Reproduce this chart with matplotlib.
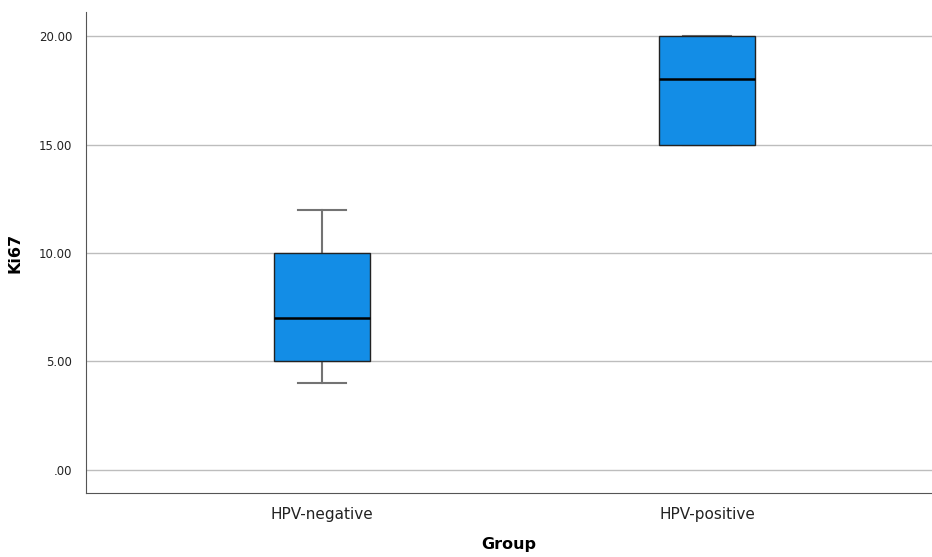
import matplotlib
matplotlib.use('Agg')
from matplotlib import pyplot as plt

groups = ['HPV-negative', 'HPV-positive']
whisker_low = [4, 15]
q1 = [5, 15]
median = [7, 18]
q3 = [10, 20]
whisker_high = [12, 20]
y_ticks = [0, 5, 10, 15, 20]
y_tick_labels = ['.00', '5.00', '10.00', '15.00', '20.00']

stats = []
for i in range(len(groups)):
    stats.append({'label': groups[i], 'whislo': whisker_low[i], 'q1': q1[i],
                  'med': median[i], 'q3': q3[i], 'whishi': whisker_high[i], 'fliers': []})

fig = plt.figure(figsize=(9.32, 5.57), dpi=100)
ax = fig.add_axes([0.0923, 0.115, 0.9077, 0.863])

# grid lines behind the boxes
for t in y_ticks:
    ax.axhline(t, color='#bdbdbd', linewidth=1.0, zorder=0)

ax.bxp(stats, positions=[1, 2], widths=0.25, patch_artist=True,
       boxprops=dict(facecolor='#138de6', edgecolor='#222222', linewidth=1.0, zorder=3),
       medianprops=dict(color='black', linewidth=1.8, zorder=4),
       whiskerprops=dict(color='#737373', linewidth=1.5, zorder=2),
       capprops=dict(color='#737373', linewidth=1.5, zorder=2),
       capwidths=0.125)

ax.set_xlim(0.387, 2.584)
ax.set_ylim(-1.06, 21.1)
ax.set_yticks(y_ticks)
ax.set_yticklabels(y_tick_labels, fontsize=8.5, color='#222222')
ax.set_xticks([1, 2])
ax.set_xticklabels(groups, fontsize=11, color='#222222')
ax.tick_params(axis='y', length=0, pad=10)
ax.tick_params(axis='x', length=0, pad=10)

ax.spines['top'].set_visible(False)
ax.spines['right'].set_visible(False)
ax.spines['left'].set_color('#555555')
ax.spines['bottom'].set_color('#555555')

ax.set_ylabel('Ki67', fontsize=11.5, fontweight='bold', labelpad=12)
ax.set_xlabel('Group', fontsize=11.5, fontweight='bold', labelpad=11)

plt.savefig('out.png', dpi=100)
